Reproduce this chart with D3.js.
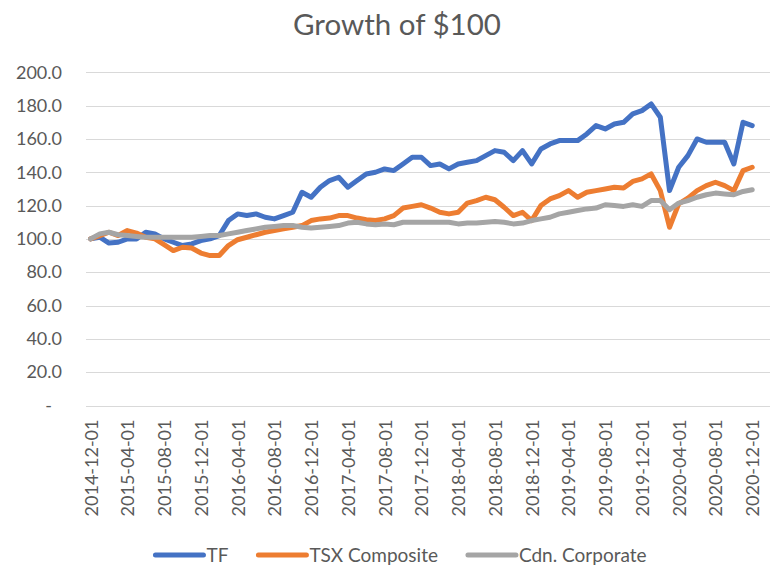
<!DOCTYPE html>
<html>
<head>
<meta charset="utf-8">
<script src="https://cdn.jsdelivr.net/npm/d3@7"></script>
<style>
  body { margin: 0; background: #fff; }
  svg { display: block; font-family: Lato, "Open Sans", sans-serif; }
</style>
</head>
<body>
<svg id="chart"></svg>
<script>
// monthly categories, 2014-12 .. 2020-12
const months = d3.timeMonth.range(new Date(2014, 11, 1), new Date(2021, 0, 2)).map(d3.timeFormat("%Y-%m-%d"));

const tf = [100, 101, 97.5, 98, 100, 100, 104, 103, 100, 98, 96, 97, 99,
  100, 102, 111, 115, 114, 115, 113, 112, 114, 116, 128, 125,
  131, 135, 137, 131, 135, 139, 140, 142, 141, 145, 149, 149,
  144, 145, 142, 145, 146, 147, 150, 153, 152, 147, 153, 145,
  154, 157, 159, 159, 159, 163, 168, 166, 169, 170, 175, 177,
  181, 173, 129, 143, 150, 160, 158, 158, 158, 145, 170, 168];

const tsx = [100, 102, 104, 102, 105, 103.5, 101, 100, 96.5, 93, 95, 94.5, 91.5,
  90, 90, 96, 99.5, 101, 102.5, 104, 105, 106, 107, 108, 111,
  112, 112.5, 114, 114, 112.5, 111.5, 111, 112, 114, 118.5, 119.5, 120.5,
  118.5, 116, 115, 116, 121.5, 123, 125, 123.5, 119, 114, 116, 111,
  120, 124, 126, 129, 125, 128, 129, 130, 131, 130.5, 134.5, 136,
  139, 129, 107, 121, 124.5, 129, 132, 134, 132, 129, 141, 143];

const corp = [100, 103, 104, 102.5, 102, 101.5, 101, 101, 101, 101, 101, 101, 101.5,
  102, 102, 103, 104, 105, 106, 107, 107.5, 108, 108, 107, 106.5,
  107, 107.5, 108, 109.5, 110, 109, 108.5, 109, 108.5, 110, 110, 110,
  110, 110, 110, 109, 109.5, 109.5, 110, 110.5, 110, 109, 109.5, 111,
  112, 113, 115, 116, 117, 118, 118.5, 120.5, 120, 119.5, 120.5, 119.5,
  123, 123, 117.5, 121.5, 123, 125, 126.5, 127.5, 127, 126.5, 128.5, 129.5];

const seriesNames = ["TF", "TSX Composite", "Cdn. Corporate"];
const seriesColors = ["#4472C4", "#ED7D31", "#A5A5A5"];
const yTicks = [0, 20, 40, 60, 80, 100, 120, 140, 160, 180, 200];

const width = 770, height = 566;
const svg = d3.select("#chart").attr("width", width).attr("height", height);

const x = d3.scalePoint().domain(months).range([86, 766]).padding(0.5);
const y = d3.scaleLinear().domain([0, 200]).range([405.5, 72.3]);

// title
svg.append("text")
  .attr("x", 397).attr("y", 35)
  .attr("text-anchor", "middle")
  .attr("font-size", 29.5)
  .attr("fill", "#595959")
  .text("Growth of $100");

// gridlines
svg.append("g").selectAll("line").data(yTicks).join("line")
  .attr("x1", 86).attr("x2", 770)
  .attr("y1", d => Math.round(y(d)) + 0.5).attr("y2", d => Math.round(y(d)) + 0.5)
  .attr("stroke", "#D9D9D9").attr("stroke-width", 1);

// y axis
const yAxis = svg.append("g")
  .attr("transform", "translate(66,0)")
  .call(d3.axisLeft(y).tickValues(yTicks).tickSize(0).tickPadding(4)
    .tickFormat(d => d === 0 ? "-" : d3.format(".1f")(d)));
yAxis.select(".domain").remove();
yAxis.selectAll("text")
  .attr("font-family", "Lato, sans-serif")
  .attr("font-size", 18).attr("fill", "#595959");
yAxis.selectAll(".tick").filter(d => d === 0).select("text").attr("x", -14);

// x axis
const xAxis = svg.append("g")
  .attr("transform", `translate(0,${y(0)})`)
  .call(d3.axisBottom(x).tickValues(months.filter((d, i) => i % 4 === 0)).tickSize(0));
xAxis.select(".domain").remove();
xAxis.selectAll("text")
  .attr("font-family", "Lato, sans-serif")
  .attr("font-size", 18).attr("fill", "#595959")
  .attr("text-anchor", "end")
  .attr("transform", "rotate(-90)")
  .attr("x", -14).attr("y", 0).attr("dy", "0.36em");

// lines
const line = d3.line().x((d, i) => x(months[i])).y(d => y(d));
[tf, tsx, corp].forEach((s, k) => {
  svg.append("path")
    .datum(s)
    .attr("fill", "none")
    .attr("stroke", seriesColors[k])
    .attr("stroke-width", 5)
    .attr("stroke-linejoin", "round")
    .attr("stroke-linecap", "round")
    .attr("d", line);
});

// legend
const legend = svg.append("g");
let lx = 0;
seriesNames.forEach((name, k) => {
  const g = legend.append("g").attr("transform", `translate(${lx},0)`);
  g.append("line").attr("x1", 0).attr("x2", 48).attr("y1", 0).attr("y2", 0)
    .attr("stroke", seriesColors[k]).attr("stroke-width", 5).attr("stroke-linecap", "round");
  const t = g.append("text").attr("x", 51).attr("y", 0).attr("dy", "0.36em")
    .attr("font-size", 19).attr("fill", "#595959").text(name);
  lx += 51 + t.node().getComputedTextLength() + 30;
});
const lw = lx - 30;
legend.attr("transform", `translate(${401 - lw / 2},555)`);
</script>
</body>
</html>
